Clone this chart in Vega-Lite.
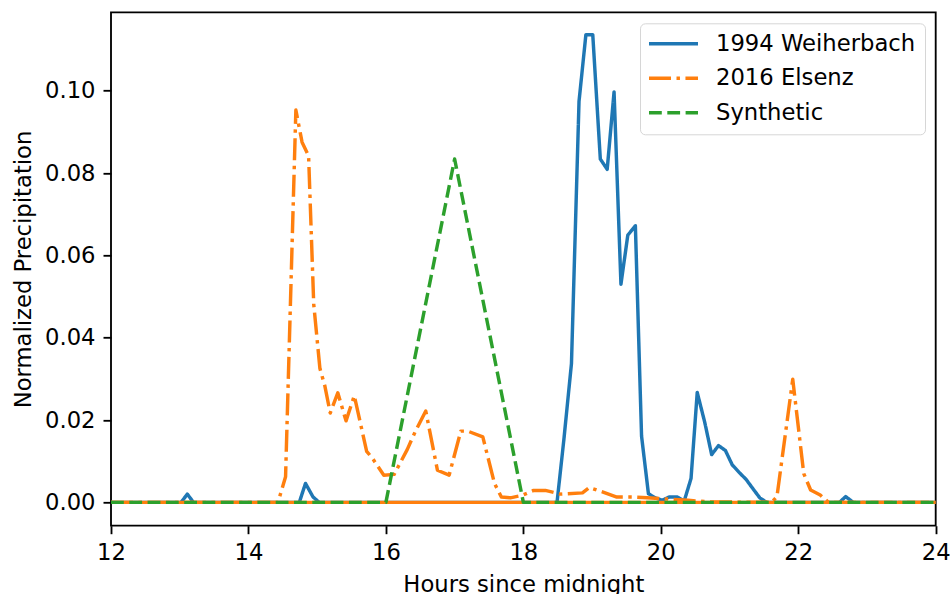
{
  "$schema": "https://vega.github.io/schema/vega-lite/v6.json",
  "width": 824.7,
  "height": 513.4,
  "autosize": "none",
  "padding": {"left": 111, "top": 12.3, "right": 14.3, "bottom": 68.3},
  "background": "white",
  "datasets": {
    "weiherbach": [
      {"series": "1994 Weiherbach", "hour": 12.0, "value": 0},
      {"series": "1994 Weiherbach", "hour": 13.02, "value": 0},
      {"series": "1994 Weiherbach", "hour": 13.11, "value": 0.002},
      {"series": "1994 Weiherbach", "hour": 13.2, "value": 0},
      {"series": "1994 Weiherbach", "hour": 14.74, "value": 0},
      {"series": "1994 Weiherbach", "hour": 14.83, "value": 0.0046},
      {"series": "1994 Weiherbach", "hour": 14.94, "value": 0.0013},
      {"series": "1994 Weiherbach", "hour": 15.03, "value": 0},
      {"series": "1994 Weiherbach", "hour": 18.49, "value": 0},
      {"series": "1994 Weiherbach", "hour": 18.59, "value": 0.0153},
      {"series": "1994 Weiherbach", "hour": 18.7, "value": 0.0337},
      {"series": "1994 Weiherbach", "hour": 18.81, "value": 0.0974},
      {"series": "1994 Weiherbach", "hour": 18.91, "value": 0.1136},
      {"series": "1994 Weiherbach", "hour": 19.01, "value": 0.1136},
      {"series": "1994 Weiherbach", "hour": 19.12, "value": 0.0834},
      {"series": "1994 Weiherbach", "hour": 19.22, "value": 0.0809},
      {"series": "1994 Weiherbach", "hour": 19.32, "value": 0.0997},
      {"series": "1994 Weiherbach", "hour": 19.42, "value": 0.053},
      {"series": "1994 Weiherbach", "hour": 19.52, "value": 0.0649},
      {"series": "1994 Weiherbach", "hour": 19.63, "value": 0.0672},
      {"series": "1994 Weiherbach", "hour": 19.72, "value": 0.0161},
      {"series": "1994 Weiherbach", "hour": 19.82, "value": 0.0021},
      {"series": "1994 Weiherbach", "hour": 19.92, "value": 0.0011},
      {"series": "1994 Weiherbach", "hour": 20.02, "value": 0.0005},
      {"series": "1994 Weiherbach", "hour": 20.12, "value": 0.0013},
      {"series": "1994 Weiherbach", "hour": 20.24, "value": 0.0013},
      {"series": "1994 Weiherbach", "hour": 20.34, "value": 0.0003},
      {"series": "1994 Weiherbach", "hour": 20.44, "value": 0.0058},
      {"series": "1994 Weiherbach", "hour": 20.53, "value": 0.0267},
      {"series": "1994 Weiherbach", "hour": 20.64, "value": 0.0194},
      {"series": "1994 Weiherbach", "hour": 20.74, "value": 0.0116},
      {"series": "1994 Weiherbach", "hour": 20.84, "value": 0.0138},
      {"series": "1994 Weiherbach", "hour": 20.94, "value": 0.0126},
      {"series": "1994 Weiherbach", "hour": 21.04, "value": 0.0091},
      {"series": "1994 Weiherbach", "hour": 21.15, "value": 0.0071},
      {"series": "1994 Weiherbach", "hour": 21.24, "value": 0.0056},
      {"series": "1994 Weiherbach", "hour": 21.35, "value": 0.0031},
      {"series": "1994 Weiherbach", "hour": 21.44, "value": 0.0011},
      {"series": "1994 Weiherbach", "hour": 21.54, "value": 0},
      {"series": "1994 Weiherbach", "hour": 22.6, "value": 0},
      {"series": "1994 Weiherbach", "hour": 22.69, "value": 0.0014},
      {"series": "1994 Weiherbach", "hour": 22.8, "value": 0},
      {"series": "1994 Weiherbach", "hour": 24.0, "value": 0}
    ],
    "elsenz_other_days": [
      {"hour": 12.0, "value": 0},
      {"hour": 24.0, "value": 0}
    ],
    "elsenz": [
      {"series": "2016 Elsenz", "hour": 12.0, "value": 0},
      {"series": "2016 Elsenz", "hour": 14.43, "value": 0},
      {"series": "2016 Elsenz", "hour": 14.54, "value": 0.0062},
      {"series": "2016 Elsenz", "hour": 14.69, "value": 0.0953},
      {"series": "2016 Elsenz", "hour": 14.78, "value": 0.0875},
      {"series": "2016 Elsenz", "hour": 14.875, "value": 0.0842},
      {"series": "2016 Elsenz", "hour": 14.95, "value": 0.0481},
      {"series": "2016 Elsenz", "hour": 15.04, "value": 0.0325},
      {"series": "2016 Elsenz", "hour": 15.11, "value": 0.0284},
      {"series": "2016 Elsenz", "hour": 15.19, "value": 0.0217},
      {"series": "2016 Elsenz", "hour": 15.3, "value": 0.0266},
      {"series": "2016 Elsenz", "hour": 15.42, "value": 0.0198},
      {"series": "2016 Elsenz", "hour": 15.54, "value": 0.0259},
      {"series": "2016 Elsenz", "hour": 15.72, "value": 0.0124},
      {"series": "2016 Elsenz", "hour": 15.8, "value": 0.0108},
      {"series": "2016 Elsenz", "hour": 15.97, "value": 0.0066},
      {"series": "2016 Elsenz", "hour": 16.12, "value": 0.0068},
      {"series": "2016 Elsenz", "hour": 16.31, "value": 0.0128},
      {"series": "2016 Elsenz", "hour": 16.43, "value": 0.0173},
      {"series": "2016 Elsenz", "hour": 16.58, "value": 0.0222},
      {"series": "2016 Elsenz", "hour": 16.75, "value": 0.0078},
      {"series": "2016 Elsenz", "hour": 16.92, "value": 0.0066},
      {"series": "2016 Elsenz", "hour": 17.09, "value": 0.0173},
      {"series": "2016 Elsenz", "hour": 17.19, "value": 0.0173},
      {"series": "2016 Elsenz", "hour": 17.41, "value": 0.0159},
      {"series": "2016 Elsenz", "hour": 17.58, "value": 0.0046},
      {"series": "2016 Elsenz", "hour": 17.68, "value": 0.0013},
      {"series": "2016 Elsenz", "hour": 17.81, "value": 0.0011},
      {"series": "2016 Elsenz", "hour": 17.98, "value": 0.0017},
      {"series": "2016 Elsenz", "hour": 18.15, "value": 0.0029},
      {"series": "2016 Elsenz", "hour": 18.32, "value": 0.0029},
      {"series": "2016 Elsenz", "hour": 18.54, "value": 0.002},
      {"series": "2016 Elsenz", "hour": 18.86, "value": 0.0023},
      {"series": "2016 Elsenz", "hour": 18.96, "value": 0.0036},
      {"series": "2016 Elsenz", "hour": 19.16, "value": 0.0025},
      {"series": "2016 Elsenz", "hour": 19.36, "value": 0.0013},
      {"series": "2016 Elsenz", "hour": 19.6, "value": 0.0013},
      {"series": "2016 Elsenz", "hour": 19.8, "value": 0.0011},
      {"series": "2016 Elsenz", "hour": 20.1, "value": 0.0008},
      {"series": "2016 Elsenz", "hour": 20.4, "value": 0.0005},
      {"series": "2016 Elsenz", "hour": 20.7, "value": 0.0001},
      {"series": "2016 Elsenz", "hour": 21.61, "value": 0},
      {"series": "2016 Elsenz", "hour": 21.69, "value": 0.0014},
      {"series": "2016 Elsenz", "hour": 21.92, "value": 0.0299},
      {"series": "2016 Elsenz", "hour": 22.08, "value": 0.007},
      {"series": "2016 Elsenz", "hour": 22.18, "value": 0.003},
      {"series": "2016 Elsenz", "hour": 22.32, "value": 0.0018},
      {"series": "2016 Elsenz", "hour": 22.44, "value": 0},
      {"series": "2016 Elsenz", "hour": 24.0, "value": 0}
    ],
    "synthetic": [
      {"series": "Synthetic", "hour": 12.0, "value": 0},
      {"series": "Synthetic", "hour": 16.0, "value": 0},
      {"series": "Synthetic", "hour": 17.0, "value": 0.0834},
      {"series": "Synthetic", "hour": 18.0, "value": 0},
      {"series": "Synthetic", "hour": 24.0, "value": 0}
    ]
  },
  "encoding": {
    "x": {
      "field": "hour", "type": "quantitative",
      "scale": {"domain": [12, 24], "nice": false, "zero": false},
      "axis": {"title": "Hours since midnight", "values": [12, 14, 16, 18, 20, 22, 24], "format": "d"}
    },
    "y": {
      "field": "value", "type": "quantitative",
      "scale": {"domain": [-0.00567, 0.11904], "nice": false, "zero": false},
      "axis": {"title": "Normalized Precipitation", "values": [0, 0.02, 0.04, 0.06, 0.08, 0.1], "format": ".2f"}
    }
  },
  "layer": [
    {
      "data": {"name": "weiherbach"},
      "mark": {"type": "line", "clip": true, "strokeWidth": 3.45, "strokeJoin": "round", "strokeCap": "butt"},
      "encoding": {
        "color": {"field": "series", "type": "nominal", "scale": {"domain": ["1994 Weiherbach", "2016 Elsenz", "Synthetic"], "range": ["#1f77b4", "#ff7f0e", "#2ca02c"]}, "legend": {"title": null}},
        "strokeDash": {"field": "series", "type": "nominal", "scale": {"domain": ["1994 Weiherbach", "2016 Elsenz", "Synthetic"], "range": [[1, 0], [22, 5.5, 3.45, 5.5], [12.8, 5.5]]}, "legend": {"title": null}}
      }
    },
    {
      "data": {"name": "elsenz_other_days"},
      "mark": {"type": "line", "clip": true, "strokeWidth": 3.45, "color": "#ff7f0e", "strokeCap": "butt"},
      "encoding": {}
    },
    {
      "data": {"name": "elsenz"},
      "mark": {"type": "line", "clip": true, "strokeWidth": 3.45, "strokeJoin": "round", "strokeCap": "butt"},
      "encoding": {
        "color": {"field": "series", "type": "nominal", "legend": {"title": null}},
        "strokeDash": {"field": "series", "type": "nominal", "legend": {"title": null}}
      }
    },
    {
      "data": {"name": "synthetic"},
      "mark": {"type": "line", "clip": true, "strokeWidth": 3.45, "strokeJoin": "round", "strokeCap": "butt"},
      "encoding": {
        "color": {"field": "series", "type": "nominal", "legend": {"title": null}},
        "strokeDash": {"field": "series", "type": "nominal", "legend": {"title": null}}
      }
    }
  ],
  "config": {
    "font": "DejaVu Sans",
    "view": {"stroke": "black", "strokeWidth": 1.84},
    "axis": {
      "grid": false, "domain": false,
      "tickColor": "black", "tickWidth": 1.84, "tickSize": 8,
      "labelPadding": 8, "labelFont": "DejaVu Sans", "labelFontSize": 22.7, "labelColor": "black",
      "labelFlush": false, "labelOverlap": false,
      "titleFont": "DejaVu Sans", "titleFontSize": 22.7, "titleFontWeight": "normal", "titleColor": "black",
      "titlePadding": 9
    },
    "legend": {
      "orient": "top-right", "offset": 11,
      "padding": 9, "rowPadding": 10.5, "clipHeight": 23,
      "fillColor": "rgba(255,255,255,0.8)", "strokeColor": "#d6d6d6", "cornerRadius": 5,
      "symbolType": "stroke", "symbolSize": 2401, "symbolStrokeWidth": 3.45, "symbolOffset": -2,
      "labelOffset": 16, "labelFont": "DejaVu Sans", "labelFontSize": 22.7, "labelColor": "black",
      "labelLimit": 400
    }
  }
}
